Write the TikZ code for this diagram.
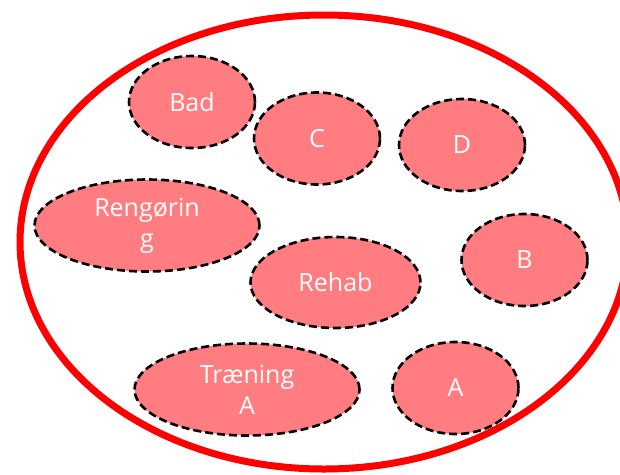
\documentclass[tikz,border=0pt]{standalone}
\usepackage{fontspec}
\setmainfont{Open Sans}
\usetikzlibrary{shapes.geometric}
\definecolor{salmonfill}{HTML}{FF7C80}
\begin{document}
\begin{tikzpicture}[x=1pt,y=-1pt,
  frame/.style={ellipse, draw=red, line width=7pt, inner sep=0pt},
  blob/.style={ellipse, draw=black, fill=salmonfill, line width=2.6pt,
    dash pattern=on 8pt off 4pt, inner sep=0pt,
    minimum width=126pt, minimum height=92pt},
  wideblob/.style={blob, minimum width=225pt},
  midblob/.style={blob, minimum width=170pt, minimum height=91pt},
  lbl/.style={text=white, font=\fontsize{25}{31}\selectfont, align=center, inner sep=0pt}]
\useasboundingbox (0,0) rectangle (620,474);
\fill[white] (0,0) rectangle (620,474);
\node[frame, minimum width=608pt, minimum height=454pt] (frame) at (324,242) {};
\node[blob] (bad) at (192,102) {};
\node[blob] (c) at (317,138.5) {};
\node[blob] (d) at (462,145) {};
\node[wideblob] (reng) at (147,225.5) {};
\node[blob] (b) at (524.5,260) {};
\node[midblob] (rehab) at (335.5,282.5) {};
\node[wideblob] (tren) at (247,389.5) {};
\node[blob] (a) at (455.5,388) {};
\node[lbl] (tbad) at (bad) {Bad};
\node[lbl] (tc) at (c) {C};
\node[lbl] (td) at (d) {D};
\node[lbl] (treng) at (reng) {Rengørin\\g};
\node[lbl] (tb) at (b) {B};
\node[lbl] (trehab) at (rehab) {Rehab};
\node[lbl] (ttren) at (tren) {Træning\\A};
\node[lbl] (ta) at (a) {A};
\end{tikzpicture}
\end{document}
